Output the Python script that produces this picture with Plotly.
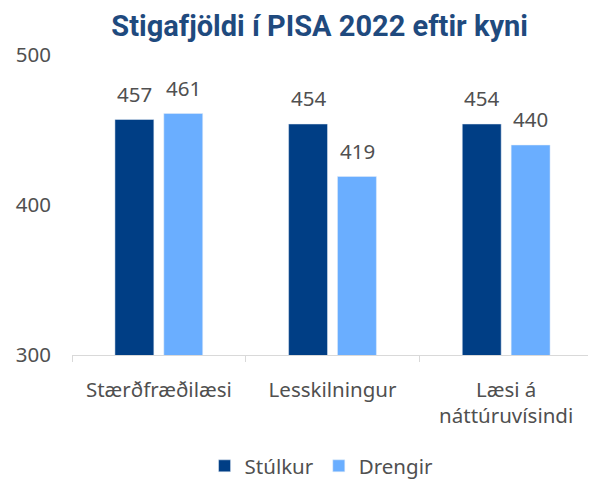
import plotly.graph_objects as go

categories = ["Stærðfræðilæsi", "Lesskilningur", "Læsi á<br>náttúruvísindi"]
stulkur = [457, 454, 454]
drengir = [461, 419, 440]

font_family = "Noto Sans, sans-serif"
text_color = "#505050"
fs = 20.5

fig = go.Figure()
fig.add_trace(go.Bar(x=categories, y=stulkur, name="Stúlkur", marker=dict(color="#003E85")))
fig.add_trace(go.Bar(x=categories, y=drengir, name="Drengir", marker=dict(color="#6AAEFF")))

# value labels sit a little higher above the bars than plotly's own outside text
for values, dx in [(stulkur, -24.5), (drengir, 24.5)]:
    for cat, v in zip(categories, values):
        fig.add_annotation(x=cat, y=v, text=str(v), showarrow=False,
                           xshift=dx, yshift=26, yanchor="middle",
                           font=dict(size=fs, color=text_color))

# page body adds an 8px margin, so the figure is a bit smaller than the window
fig.update_layout(
    width=588, height=472,
    margin=dict(l=64, r=3, t=47, b=125, autoexpand=False),
    paper_bgcolor="white", plot_bgcolor="white",
    font=dict(family=font_family, size=fs, color=text_color),
    title=dict(text="<b>Stigafjöldi í PISA 2022 eftir kyni</b>",
               x=0.53, xanchor="center", y=0.962, yanchor="middle",
               font=dict(family="Liberation Sans Narrow, Roboto, sans-serif", size=29, color="#1F4A7E")),
    barmode="group", bargap=0.437, bargroupgap=0.204,
    showlegend=True,
    legend=dict(orientation="h", x=0.479, xanchor="center", y=-0.37, yanchor="middle",
                font=dict(size=fs, color=text_color)),
    xaxis=dict(showline=True, linecolor="#D9D9D9", linewidth=1,
               ticks="outside", tickson="boundaries", ticklen=6, tickcolor="#D9D9D9",
               ticklabelstandoff=16,
               tickfont=dict(size=fs, color=text_color)),
    yaxis=dict(range=[300, 500], tickvals=[300, 400, 500], showgrid=False,
               zeroline=False, showline=False, ticks="", ticklabelstandoff=20,
               tickfont=dict(size=fs, color=text_color)),
)

fig.write_html("out.html")
